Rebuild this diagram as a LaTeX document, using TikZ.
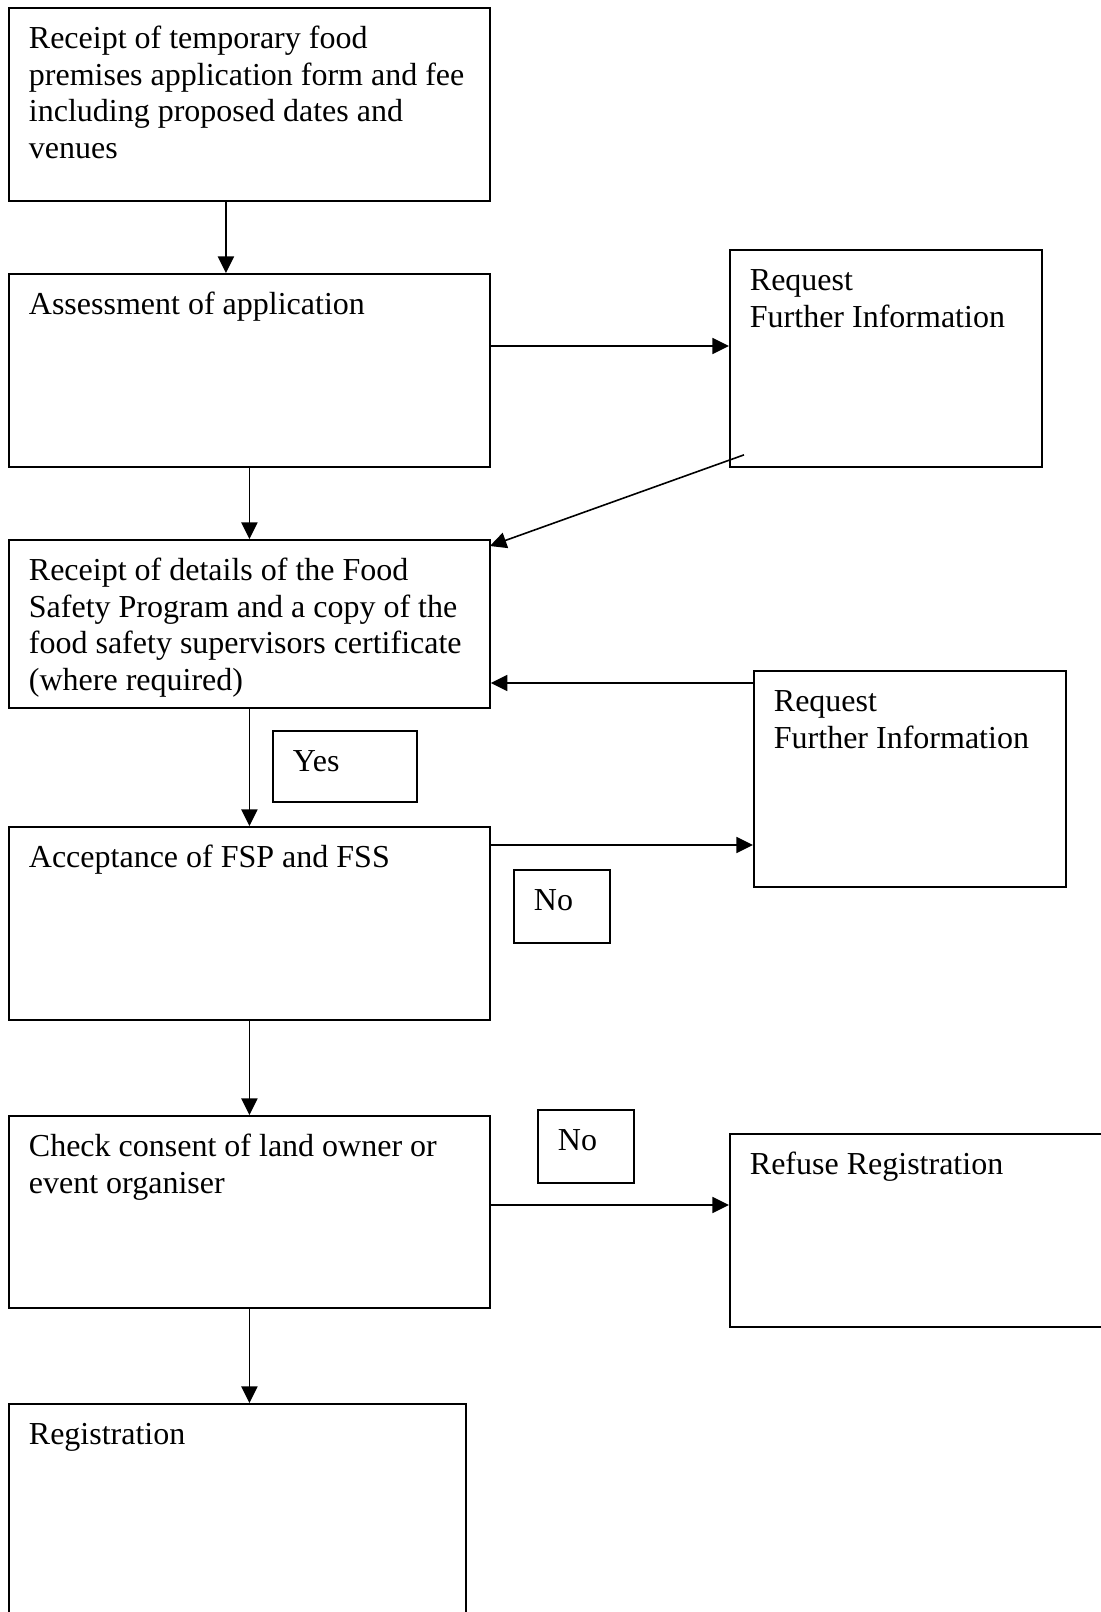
\documentclass[tikz,border=0pt]{standalone}
\usepackage{fontspec}
\setmainfont{Liberation Serif}
\usetikzlibrary{arrows.meta,calc}
\newdimen\px \px=0.375pt
\def\boxtext#1#2#3{\parbox[c][\dimexpr#2\px-11pt\relax][t]{\dimexpr#1\px-15pt\relax}{\raggedright\strut#3}}

\begin{document}
\begin{tikzpicture}[x=0.375pt, y=-0.375pt,
	stepbox/.style={draw, line width=0.7pt, anchor=north west, inner xsep=7.5pt, inner ysep=5.5pt, font=\fontsize{12}{13.8}\selectfont},
	flow/.style={-{Triangle[length=6.2pt,width=6pt]}, line width=0.6pt}]
			%%%%% START %%%%%
			\clip (0, 0) rectangle (1101, 1612);
			
			\node[stepbox] (apply) at (8, 7) {\boxtext{481}{193}{Receipt of temporary food\\premises application form and fee\\including proposed dates and\\venues}};
			\node[stepbox] (assess) at (8, 273) {\boxtext{481}{193}{Assessment of application}};
			\node[stepbox] (fspin) at (8, 539) {\boxtext{481}{168}{Receipt of details of the Food\\Safety Program and a copy of the\\food safety supervisors certificate\\(where required)}};
			\node[stepbox] (accept) at (8, 826) {\boxtext{481}{193}{Acceptance of FSP and FSS}};
			\node[stepbox] (consent) at (8, 1115) {\boxtext{481}{192}{Check consent of land owner or\\event organiser}};
			\node[stepbox] (regist) at (8, 1403) {\boxtext{457}{260}{Registration}};
			
			\node[stepbox] (reqone) at (729, 249) {\boxtext{312}{217}{Request\\Further Information}};
			\node[stepbox] (reqtwo) at (753, 670) {\boxtext{312}{216}{Request\\Further Information}};
			\node[stepbox] (refuse) at (729, 1133) {\boxtext{420}{193}{Refuse Registration}};
			
			\node[stepbox] (yes) at (272, 730) {\boxtext{144}{71}{Yes}};
			\node[stepbox] (noone) at (513, 869) {\boxtext{96}{73}{No}};
			\node[stepbox] (notwo) at (537, 1109) {\boxtext{96}{73}{No}};
			
			% down the left column
			\draw[flow] ($(apply.south)+(-23.5, 0)$) -- ($(assess.north)+(-23.5, 0)$);
			\draw[flow] (assess.south) -- (fspin.north);
			\draw[flow] (fspin.south) -- (accept.north);
			\draw[flow] (accept.south) -- (consent.north);
			\draw[flow] (consent.south) -- (consent.south |- regist.north);
			
			% out to the right and back
			\draw[flow] ($(assess.north east)+(0, 73)$) coordinate (t1) -- (t1 -| reqone.west);
			\draw[flow] ($(reqone.south west)+(15, -13)$) -- ($(fspin.north east)+(-1, 7)$);
			\draw[flow] ($(reqtwo.north west)+(0, 13)$) coordinate (t2) -- (t2 -| fspin.east);
			\draw[flow] ($(accept.north east)+(0, 19)$) coordinate (t3) -- (t3 -| reqtwo.west);
			\draw[flow] ($(consent.north east)+(0, 90)$) coordinate (t4) -- (t4 -| refuse.west);
			%%%%% END %%%%%
\end{tikzpicture}
\end{document}
